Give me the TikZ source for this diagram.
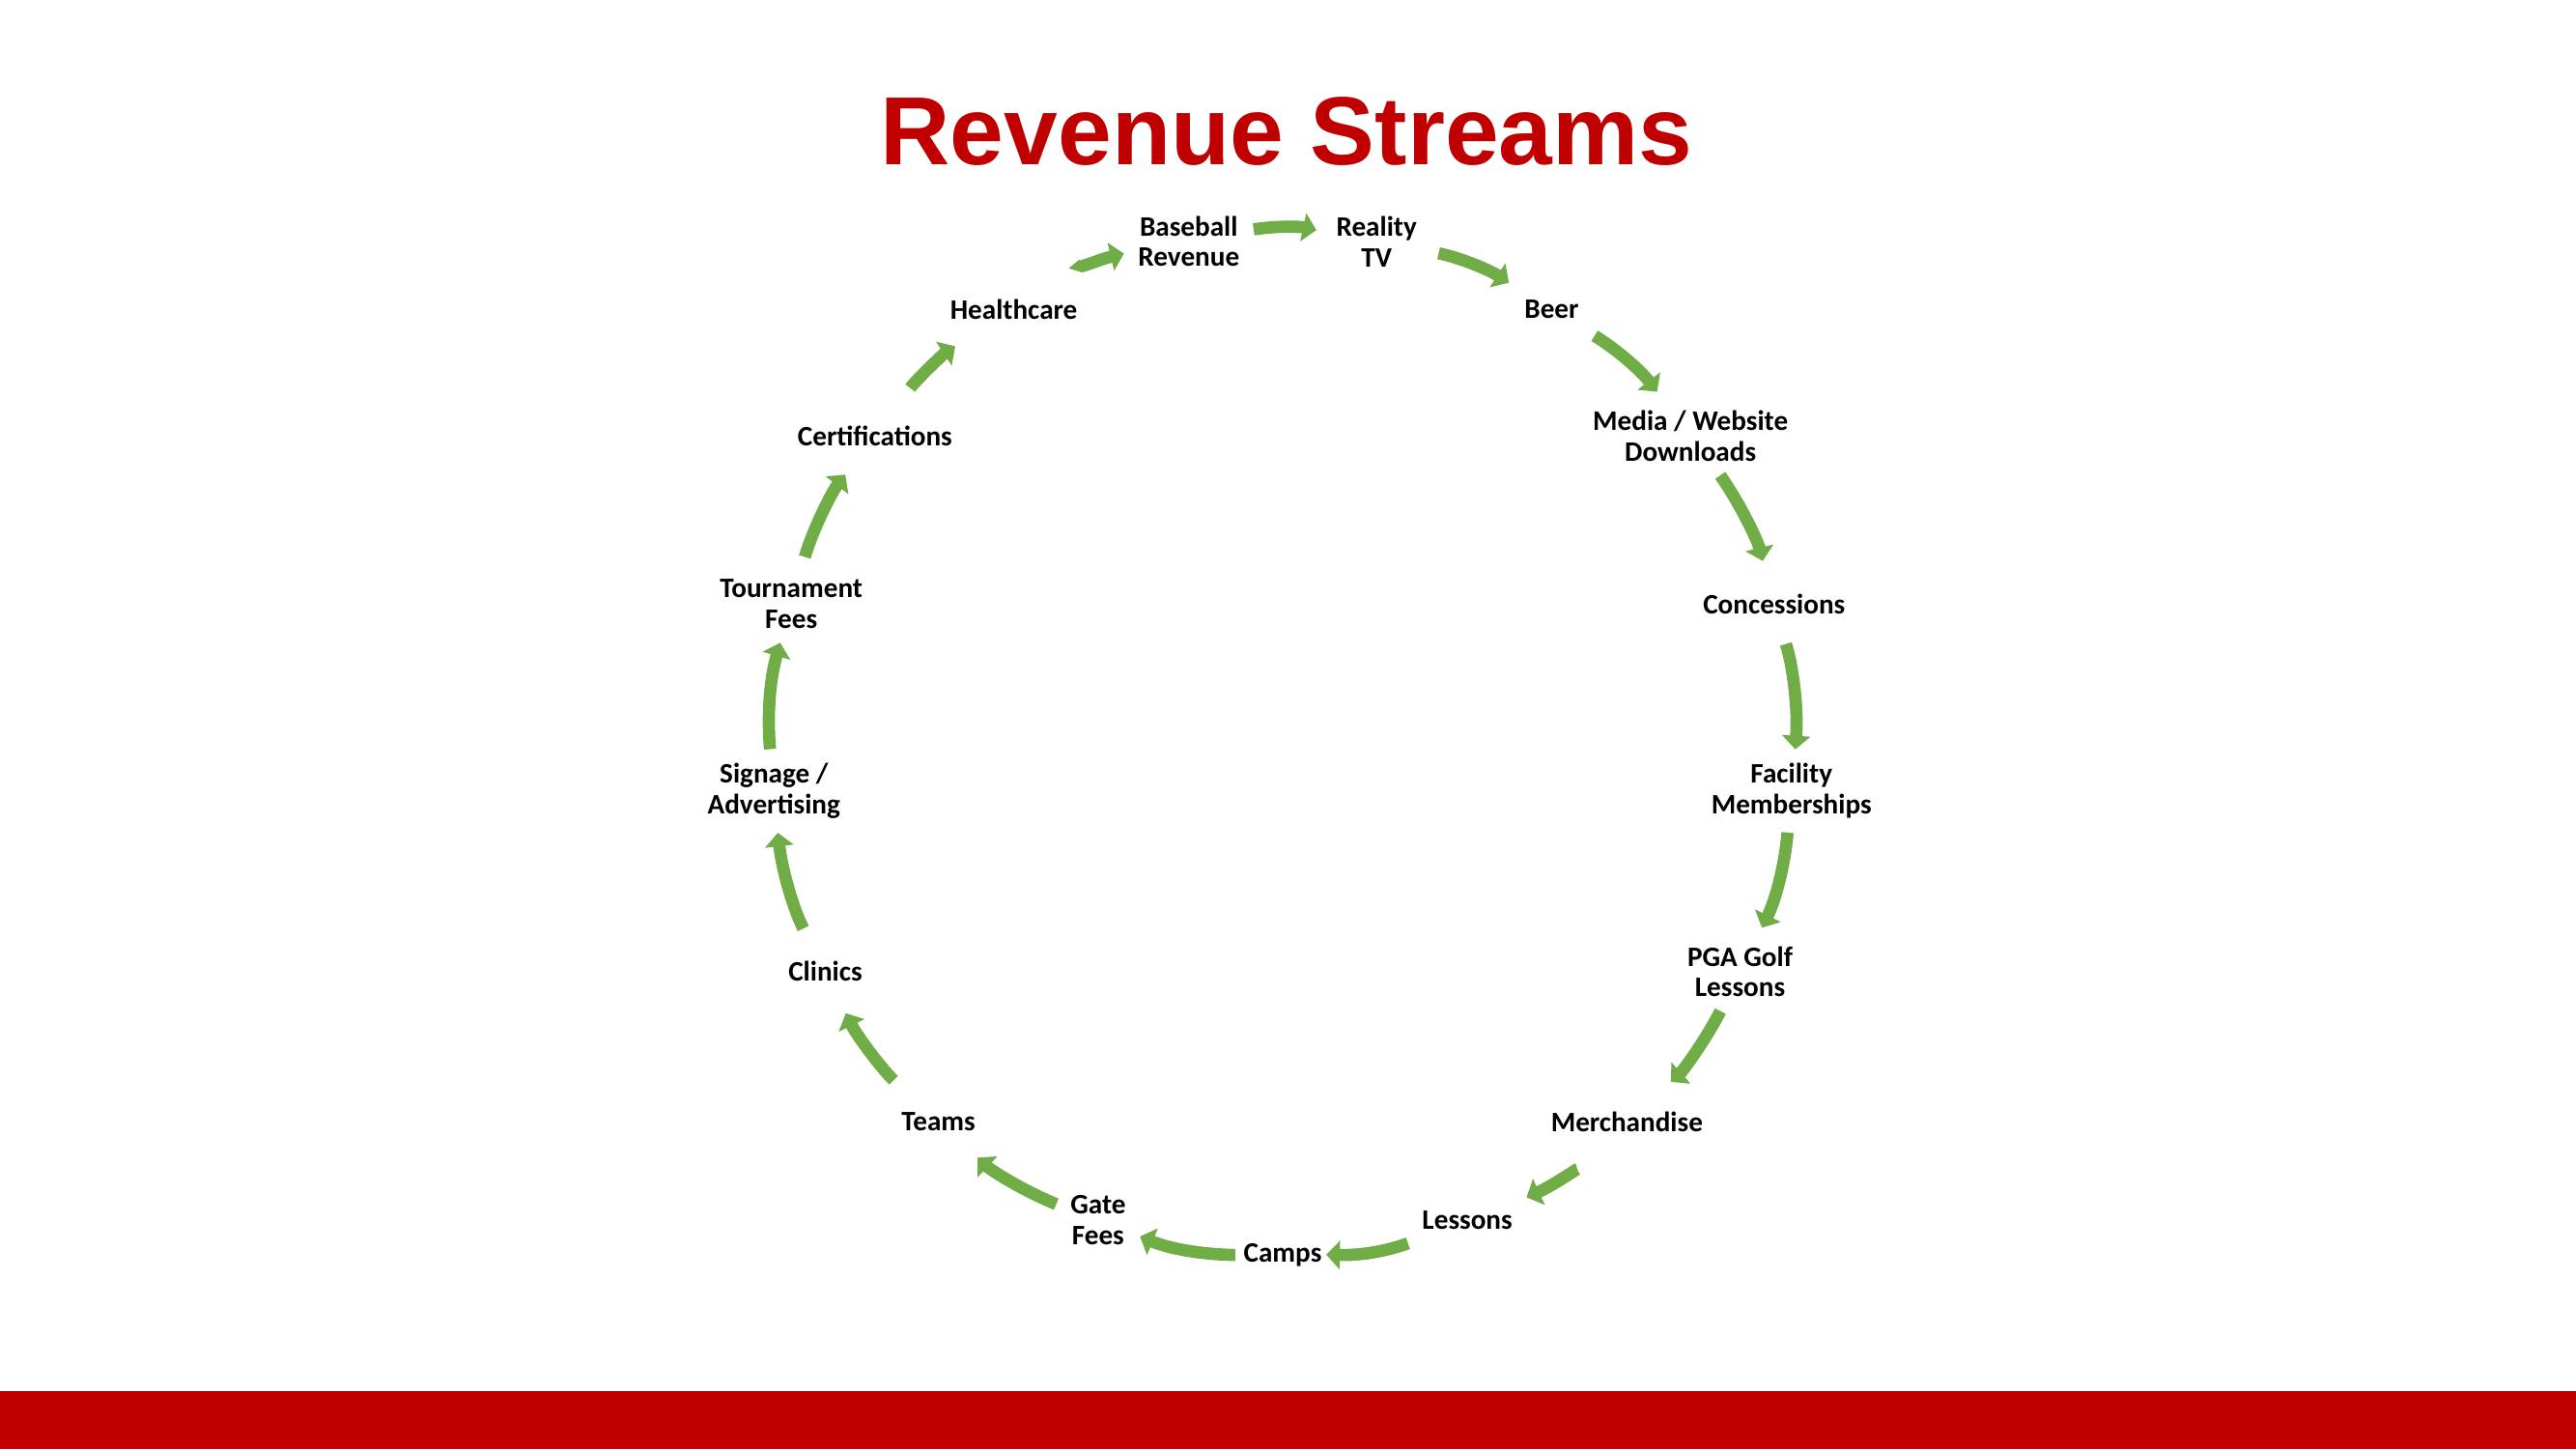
\documentclass[tikz,border=0pt]{standalone}
\usepackage{fontspec}
\usepackage{tikz}
\usetikzlibrary{calc,arrows.meta}
\newfontfamily\streamfont{Carlito}
\newfontfamily\headfont{Liberation Sans}
\definecolor{barred}{HTML}{C00000}
\definecolor{flowgreen}{HTML}{70AD47}
\tikzset{
stream/.style={font={\streamfont\bfseries\fontsize{8.3}{9.0}\selectfont}, align=center, inner sep=4pt},
flow/.style={draw=flowgreen, line width=3.6pt, -{Triangle[length=1.4mm,width=2.9mm]}, bend left=10.6, looseness=0.86}
}
\begin{document}
\begin{tikzpicture}
\useasboundingbox (0,0) rectangle (26.67,15);
\fill[white] (0,0) rectangle (26.67,15);
% footer bar
\fill[barred] (0,0) rectangle (26.67,0.6);
\node[font={\headfont\bfseries\fontsize{28.5}{34}\selectfont}, text=barred] (title) at (13.32,13.64) {Revenue Streams};
\coordinate (hub) at (13.28,7.30);
% the ring of streams, clockwise from the top
\node[stream] (baseball) at ($(hub)+(100.59:5.29)$) {Baseball\\Revenue};
\node[stream] (reality) at ($(hub)+(79.41:5.29)$) {Reality\\TV};
\node[stream] (beer) at ($(hub)+(58.24:5.29)$) {Beer};
\node[stream] (media) at ($(hub)+(37.06:5.29)$) {Media / Website\\Downloads};
\node[stream] (concess) at ($(hub)+(15.88:5.29)$) {Concessions};
\node[stream] (facility) at ($(hub)+(-5.29:5.29)$) {Facility\\Memberships};
\node[stream] (pga) at ($(hub)+(-26.47:5.29)$) {PGA Golf\\Lessons};
\node[stream] (merch) at ($(hub)+(-47.65:5.29)$) {Merchandise};
\node[stream] (lessons) at ($(hub)+(-68.82:5.29)$) {Lessons};
\node[stream] (camps) at ($(hub)+(-90:5.29)$) {Camps};
\node[stream] (gate) at ($(hub)+(-111.18:5.29)$) {Gate\\Fees};
\node[stream] (teams) at ($(hub)+(-132.35:5.29)$) {Teams};
\node[stream] (clinics) at ($(hub)+(-153.53:5.29)$) {Clinics};
\node[stream] (signage) at ($(hub)+(-174.71:5.29)$) {Signage /\\Advertising};
\node[stream] (tourney) at ($(hub)+(164.12:5.29)$) {Tournament\\Fees};
\node[stream] (certs) at ($(hub)+(142.94:5.29)$) {Certifications};
\node[stream] (health) at ($(hub)+(121.76:5.29)$) {Healthcare};
% arrows round the ring
\draw[flow, shorten >=0.06cm] (baseball) to (reality);
\draw[flow, shorten <=0.08cm, shorten >=0.06cm] (reality) to (beer);
\draw[flow, shorten <=0.06cm, shorten >=0.06cm] (beer) to (media);
\draw[flow, shorten >=0.2cm] (media) to (concess);
\draw[flow, shorten <=0.17cm] (concess) to (facility);
\draw[flow, shorten >=0.05cm] (facility) to (pga);
\draw[flow, shorten >=0.24cm] (pga) to (merch);
\draw[flow, shorten <=0.34cm] (merch) to (lessons);
\draw[flow, shorten >=-0.1cm] (lessons) to (camps);
\draw[flow, shorten <=-0.06cm] (camps) to (gate);
\draw[flow, shorten >=0.19cm] (gate) to (teams);
\draw[flow, shorten <=0.27cm, shorten >=0.2cm] (teams) to (clinics);
\draw[flow, shorten <=0.22cm] (clinics) to (signage);
\draw[flow] (signage) to (tourney);
\draw[flow, shorten <=0.09cm, shorten >=0.19cm] (tourney) to (certs);
\draw[flow, shorten <=0.3cm, shorten >=0.24cm] (certs) to (health);
\draw[flow, shorten <=0.38cm] (health) to (baseball);
\end{tikzpicture}
\end{document}
